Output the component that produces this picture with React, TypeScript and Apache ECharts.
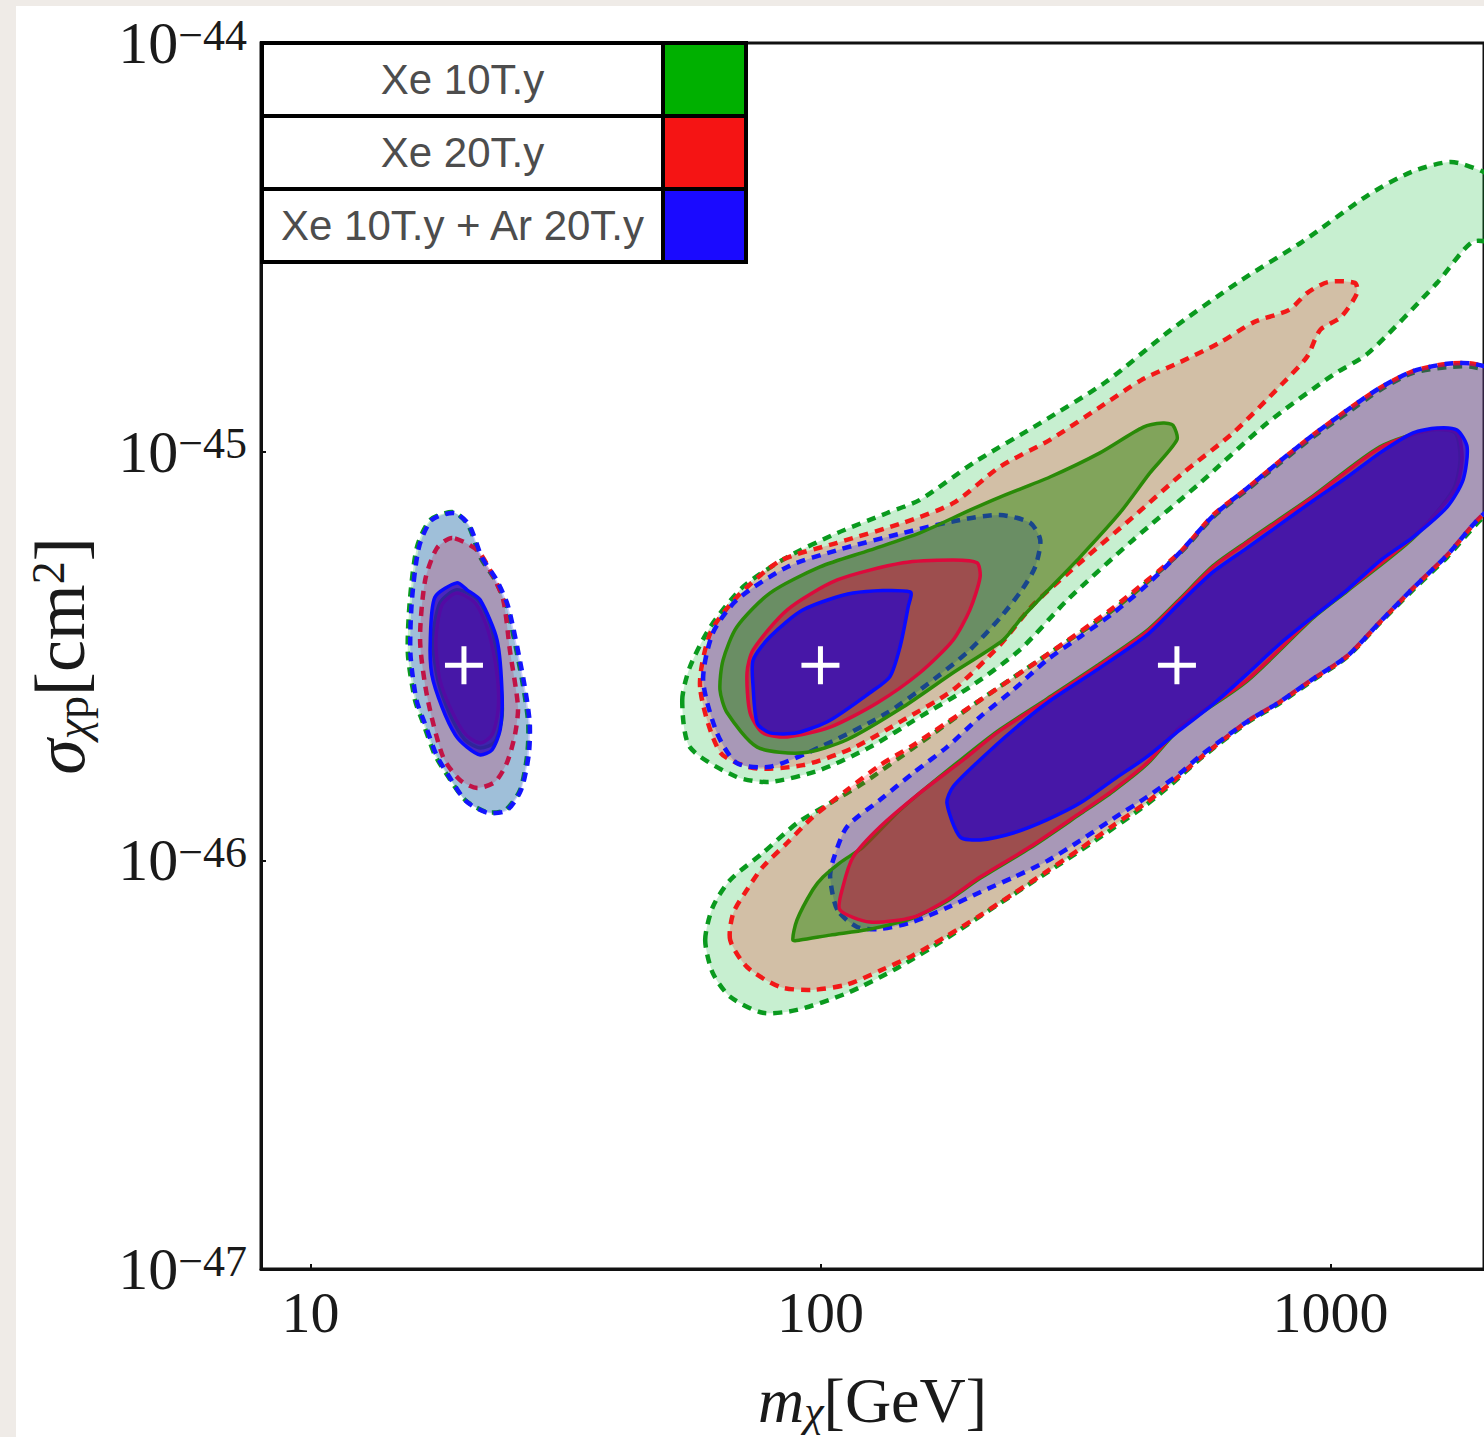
import React, { useEffect, useRef } from "react";
import * as echarts from "echarts";

// ---------- data: contours are [log10(m / GeV), log10(sigma / cm^2)] pairs ----------
type P = [number, number];

const seriesNames = ["Xe 10T.y", "Xe 20T.y", "Xe 10T.y + Ar 20T.y"];
const legendColors = ["#00b000", "#f51414", "#1a0aff"];
const benchmarkMass = [20, 100, 500]; // GeV
const benchmarkSigma = [3e-46, 3e-46, 3e-46]; // cm^2
const xTickMass = [10, 100, 1000];
const yTickExp = [-47, -46, -45, -44];
const xMinMass = 8;
const xMaxMass = 2000;

// benchmark m = 20 GeV
const xe10_2s_A: P[] = [[1.280,-45.148],[1.235,-45.167],[1.209,-45.233],[1.195,-45.363],[1.191,-45.493],[1.205,-45.608],[1.221,-45.664],[1.244,-45.742],[1.268,-45.791],[1.303,-45.852],[1.346,-45.882],[1.382,-45.877],[1.411,-45.828],[1.425,-45.742],[1.427,-45.664],[1.415,-45.559],[1.385,-45.380],[1.362,-45.314],[1.333,-45.258],[1.309,-45.179]];
const xe20_2s_A: P[] = [[1.278,-45.211],[1.248,-45.236],[1.225,-45.314],[1.215,-45.461],[1.229,-45.600],[1.260,-45.747],[1.293,-45.803],[1.327,-45.823],[1.362,-45.808],[1.385,-45.762],[1.401,-45.693],[1.407,-45.625],[1.391,-45.485],[1.378,-45.363],[1.352,-45.289],[1.327,-45.241]];
const xeAr_2s_A: P[] = [[1.282,-45.150],[1.238,-45.167],[1.213,-45.233],[1.199,-45.363],[1.196,-45.493],[1.208,-45.608],[1.224,-45.664],[1.247,-45.742],[1.271,-45.793],[1.305,-45.855],[1.348,-45.884],[1.385,-45.878],[1.413,-45.828],[1.428,-45.742],[1.430,-45.664],[1.418,-45.559],[1.388,-45.380],[1.365,-45.314],[1.336,-45.258],[1.311,-45.179]];
const xe10_1s_A: P[] = [[1.287,-45.338],[1.254,-45.370],[1.240,-45.461],[1.250,-45.559],[1.274,-45.644],[1.303,-45.705],[1.333,-45.725],[1.362,-45.710],[1.376,-45.644],[1.372,-45.559],[1.356,-45.436],[1.329,-45.363]];
const xe20_1s_A: P[] = [[1.287,-45.346],[1.258,-45.375],[1.246,-45.461],[1.254,-45.559],[1.278,-45.637],[1.305,-45.693],[1.333,-45.713],[1.356,-45.693],[1.368,-45.632],[1.366,-45.546],[1.348,-45.436],[1.323,-45.370]];
const xeAr_1s_A: P[] = [[1.287,-45.321],[1.244,-45.356],[1.235,-45.461],[1.238,-45.546],[1.258,-45.625],[1.284,-45.693],[1.307,-45.723],[1.333,-45.742],[1.356,-45.730],[1.372,-45.681],[1.376,-45.600],[1.366,-45.461],[1.333,-45.363],[1.307,-45.338]];

// benchmark m = 100 GeV (plus the upper degenerate band)
const xe10_2s_B: P[] = [[1.729,-45.608],[1.744,-45.527],[1.784,-45.429],[1.848,-45.331],[1.935,-45.258],[2.033,-45.199],[2.131,-45.150],[2.195,-45.118],[2.303,-45.025],[2.431,-44.930],[2.560,-44.829],[2.687,-44.702],[2.817,-44.587],[2.944,-44.487],[3.074,-44.372],[3.158,-44.316],[3.236,-44.291],[3.301,-44.316],[3.333,-44.347],[3.333,-44.482],[3.278,-44.487],[3.209,-44.587],[3.074,-44.759],[3.005,-44.812],[2.876,-44.930],[2.744,-45.077],[2.613,-45.216],[2.484,-45.363],[2.391,-45.485],[2.293,-45.576],[2.195,-45.649],[2.097,-45.723],[1.999,-45.779],[1.901,-45.808],[1.836,-45.796],[1.744,-45.723]];
const xe20_2s_B: P[] = [[1.764,-45.576],[1.784,-45.444],[1.836,-45.356],[1.921,-45.267],[2.033,-45.223],[2.162,-45.174],[2.260,-45.126],[2.352,-45.037],[2.450,-44.971],[2.548,-44.891],[2.629,-44.825],[2.705,-44.781],[2.782,-44.734],[2.850,-44.683],[2.919,-44.653],[2.954,-44.612],[2.995,-44.585],[3.048,-44.587],[3.052,-44.612],[3.021,-44.670],[2.980,-44.702],[2.954,-44.768],[2.907,-44.832],[2.809,-44.954],[2.711,-45.052],[2.613,-45.160],[2.515,-45.265],[2.417,-45.375],[2.352,-45.473],[2.260,-45.583],[2.162,-45.657],[2.064,-45.725],[1.966,-45.767],[1.868,-45.774],[1.803,-45.735]];
const xeAr_2s_B: P[] = [[1.770,-45.559],[1.789,-45.444],[1.836,-45.363],[1.935,-45.282],[2.033,-45.241],[2.162,-45.199],[2.274,-45.167],[2.352,-45.155],[2.411,-45.174],[2.431,-45.216],[2.421,-45.282],[2.395,-45.338],[2.352,-45.407],[2.293,-45.485],[2.229,-45.551],[2.131,-45.639],[1.999,-45.723],[1.901,-45.771],[1.836,-45.762],[1.797,-45.688]];
const xe10_1s_B: P[] = [[1.803,-45.583],[1.809,-45.510],[1.836,-45.429],[1.901,-45.346],[1.999,-45.282],[2.097,-45.241],[2.195,-45.199],[2.293,-45.143],[2.352,-45.111],[2.450,-45.062],[2.548,-45.003],[2.633,-44.940],[2.672,-44.930],[2.691,-44.935],[2.699,-44.971],[2.646,-45.052],[2.587,-45.150],[2.509,-45.258],[2.437,-45.351],[2.391,-45.412],[2.358,-45.461],[2.260,-45.541],[2.162,-45.625],[2.052,-45.705],[1.966,-45.737],[1.876,-45.723],[1.817,-45.639]];
const xe20_1s_B: P[] = [[1.856,-45.541],[1.868,-45.485],[1.935,-45.387],[2.033,-45.314],[2.162,-45.272],[2.260,-45.265],[2.307,-45.272],[2.313,-45.307],[2.293,-45.387],[2.260,-45.461],[2.195,-45.541],[2.111,-45.615],[2.019,-45.674],[1.935,-45.698],[1.887,-45.688],[1.862,-45.639]];
const xeAr_1s_B: P[] = [[1.868,-45.510],[1.901,-45.453],[1.966,-45.387],[2.064,-45.346],[2.176,-45.343],[2.172,-45.380],[2.156,-45.478],[2.136,-45.551],[2.097,-45.590],[2.019,-45.657],[1.954,-45.688],[1.901,-45.688],[1.876,-45.664],[1.868,-45.576]];

// benchmark m = 500 GeV
const xe10_2s_C: P[] = [[1.774,-46.195],[1.789,-46.114],[1.823,-46.048],[1.887,-45.982],[1.954,-45.909],[2.019,-45.860],[2.084,-45.811],[2.182,-45.725],[2.313,-45.608],[2.444,-45.497],[2.574,-45.387],[2.705,-45.248],[2.770,-45.160],[2.836,-45.094],[2.901,-45.028],[2.966,-44.964],[3.033,-44.905],[3.097,-44.849],[3.162,-44.807],[3.229,-44.793],[3.280,-44.793],[3.333,-44.820],[3.333,-45.155],[3.301,-45.160],[3.229,-45.258],[3.162,-45.338],[3.097,-45.419],[3.033,-45.502],[2.966,-45.559],[2.901,-45.615],[2.836,-45.664],[2.744,-45.752],[2.690,-45.812],[2.640,-45.863],[2.542,-45.949],[2.444,-46.030],[2.346,-46.110],[2.248,-46.190],[2.150,-46.264],[2.052,-46.325],[1.954,-46.366],[1.887,-46.373],[1.823,-46.334],[1.789,-46.276]];
const xe20_2s_C: P[] = [[1.823,-46.195],[1.829,-46.129],[1.856,-46.072],[1.887,-46.016],[1.935,-45.957],[1.985,-45.894],[2.052,-45.828],[2.117,-45.767],[2.182,-45.718],[2.313,-45.608],[2.444,-45.497],[2.574,-45.382],[2.705,-45.246],[2.770,-45.155],[2.836,-45.090],[2.901,-45.023],[2.966,-44.959],[3.033,-44.898],[3.097,-44.844],[3.162,-44.803],[3.229,-44.785],[3.280,-44.785],[3.333,-44.812],[3.333,-45.148],[3.301,-45.152],[3.229,-45.253],[3.162,-45.334],[3.097,-45.417],[3.033,-45.500],[2.966,-45.556],[2.901,-45.612],[2.836,-45.661],[2.744,-45.750],[2.690,-45.808],[2.640,-45.858],[2.574,-45.915],[2.509,-45.972],[2.444,-46.027],[2.378,-46.082],[2.313,-46.135],[2.248,-46.185],[2.182,-46.232],[2.117,-46.270],[2.052,-46.304],[1.985,-46.317],[1.921,-46.310],[1.856,-46.261]];
const xeAr_2s_C: P[] = [[2.033,-46.121],[2.019,-46.041],[2.025,-45.999],[2.052,-45.918],[2.117,-45.852],[2.182,-45.786],[2.248,-45.723],[2.313,-45.649],[2.378,-45.583],[2.444,-45.510],[2.509,-45.453],[2.574,-45.395],[2.640,-45.326],[2.705,-45.246],[2.770,-45.157],[2.836,-45.090],[2.901,-45.023],[2.966,-44.959],[3.033,-44.898],[3.097,-44.844],[3.162,-44.803],[3.229,-44.785],[3.280,-44.785],[3.333,-44.812],[3.333,-45.148],[3.301,-45.152],[3.229,-45.253],[3.162,-45.334],[3.097,-45.417],[3.033,-45.500],[2.966,-45.556],[2.901,-45.612],[2.836,-45.661],[2.744,-45.745],[2.705,-45.787],[2.640,-45.845],[2.574,-45.898],[2.509,-45.952],[2.444,-46.002],[2.378,-46.042],[2.313,-46.078],[2.248,-46.116],[2.182,-46.150],[2.117,-46.168],[2.072,-46.163]];
const xe10_1s_C: P[] = [[1.946,-46.195],[1.954,-46.146],[1.985,-46.072],[2.005,-46.041],[2.038,-46.006],[2.084,-45.967],[2.150,-45.884],[2.195,-45.835],[2.280,-45.749],[2.346,-45.685],[2.444,-45.605],[2.542,-45.524],[2.640,-45.438],[2.705,-45.360],[2.770,-45.279],[2.836,-45.220],[2.966,-45.108],[3.097,-44.988],[3.195,-44.947],[3.244,-44.954],[3.254,-45.020],[3.240,-45.094],[3.162,-45.212],[3.033,-45.341],[2.966,-45.407],[2.836,-45.562],[2.705,-45.677],[2.640,-45.765],[2.574,-45.831],[2.509,-45.887],[2.411,-45.970],[2.313,-46.044],[2.248,-46.100],[2.182,-46.141],[2.150,-46.153],[2.091,-46.170],[2.019,-46.183],[1.960,-46.195]];
const xe20_1s_C: P[] = [[2.038,-46.121],[2.044,-46.065],[2.064,-45.992],[2.117,-45.918],[2.195,-45.835],[2.280,-45.754],[2.346,-45.688],[2.444,-45.608],[2.542,-45.527],[2.640,-45.441],[2.705,-45.363],[2.770,-45.282],[2.836,-45.223],[2.966,-45.111],[3.097,-44.991],[3.195,-44.947],[3.248,-44.954],[3.258,-45.020],[3.244,-45.094],[3.162,-45.209],[3.033,-45.338],[2.966,-45.404],[2.836,-45.559],[2.705,-45.674],[2.640,-45.762],[2.574,-45.828],[2.509,-45.884],[2.411,-45.967],[2.313,-46.041],[2.248,-46.097],[2.182,-46.139],[2.097,-46.151]];
const xeAr_1s_C: P[] = [[2.248,-45.860],[2.260,-45.820],[2.313,-45.754],[2.378,-45.681],[2.444,-45.615],[2.542,-45.534],[2.640,-45.449],[2.705,-45.370],[2.770,-45.294],[2.836,-45.236],[2.901,-45.178],[2.966,-45.120],[3.033,-45.062],[3.097,-45.003],[3.162,-44.954],[3.209,-44.942],[3.248,-44.947],[3.268,-44.989],[3.260,-45.069],[3.229,-45.135],[3.162,-45.209],[3.097,-45.267],[3.033,-45.338],[2.966,-45.404],[2.901,-45.470],[2.836,-45.545],[2.770,-45.618],[2.705,-45.681],[2.640,-45.747],[2.574,-45.803],[2.509,-45.860],[2.444,-45.901],[2.378,-45.933],[2.313,-45.950],[2.274,-45.943]];

// ---------- styles ----------
const SERIF = "'Liberation Serif', 'Times New Roman', serif";
const SANS = "'Liberation Sans', Arial, sans-serif";
const INK = "#1a1a1a";

const layers = [
  { name: "Xe 10T.y 2σ", polys: [xe10_2s_A, xe10_2s_B, xe10_2s_C], fill: "rgba(0,180,40,0.22)", stroke: "#0a9a1e", dash: true },
  { name: "Xe 20T.y 2σ", polys: [xe20_2s_A, xe20_2s_B, xe20_2s_C], fill: "rgba(255,0,0,0.2)", stroke: "#f21818", dash: true },
  { name: "Xe 10T.y + Ar 20T.y 2σ", polys: [xeAr_2s_A, xeAr_2s_B, xeAr_2s_C], fill: "rgba(0,0,255,0.2)", stroke: "#1414ff", dash: true },
  { name: "Xe 10T.y 1σ", polys: [xe10_1s_A, xe10_1s_B, xe10_1s_C], fill: "rgba(30,130,0,0.45)", stroke: "#2a8a08", dash: false },
  { name: "Xe 20T.y 1σ", polys: [xe20_1s_A, xe20_1s_B, xe20_1s_C], fill: "rgba(220,0,50,0.45)", stroke: "#dc0a3c", dash: false },
  { name: "Xe 10T.y + Ar 20T.y 1σ", polys: [xeAr_1s_A, xeAr_1s_B, xeAr_1s_C], fill: "rgba(50,10,190,0.8)", stroke: "#0a0aff", dash: false },
];

export default function App() {
  const ref = useRef<HTMLDivElement>(null);

  useEffect(() => {
    if (!ref.current) return;
    const chart = echarts.init(ref.current, undefined, { renderer: "svg" });

    const contourSeries = layers.map((layer) => ({
      type: "custom",
      name: layer.name,
      coordinateSystem: "cartesian2d",
      clip: true,
      silent: true,
      data: layer.polys.map((poly, i) => [poly[0][0], poly[0][1], i]),
      encode: { x: 0, y: 1 },
      renderItem: (params: any, api: any) => {
        const poly = layer.polys[params.dataIndex];
        const pts = poly.map((p) => api.coord(p));
        return {
          type: "polygon",
          shape: { points: pts, smooth: 0.25 },
          style: {
            fill: layer.fill,
            stroke: layer.stroke,
            lineWidth: layer.dash ? 4.5 : 3.5,
            lineDash: layer.dash ? [9, 7] : null,
          },
        };
      },
    }));

    // legend table built from the names / colours
    const lgX = 262, lgY = 43, rowH = 73, textW = 401, swW = 83;
    const legendEls: any[] = [];
    legendEls.push({
      type: "rect",
      shape: { x: lgX, y: lgY, width: textW + swW, height: rowH * seriesNames.length },
      style: { fill: "#ffffff", stroke: "#000", lineWidth: 4 },
      z: 100,
    });
    seriesNames.forEach((nm, i) => {
      legendEls.push({
        type: "rect",
        shape: { x: lgX + textW + 2, y: lgY + rowH * i + 2, width: swW - 4, height: rowH - 4 },
        style: { fill: legendColors[i] },
        z: 101,
      });
      legendEls.push({
        type: "text",
        x: lgX + textW / 2,
        y: lgY + rowH * i + rowH / 2,
        style: { text: nm, fill: "#4d4d4d", font: `42px ${SANS}`, align: "center", verticalAlign: "middle" },
        z: 102,
      });
      if (i > 0) {
        legendEls.push({
          type: "line",
          shape: { x1: lgX, y1: lgY + rowH * i, x2: lgX + textW + swW, y2: lgY + rowH * i },
          style: { stroke: "#000", lineWidth: 4 },
          z: 103,
        });
      }
    });
    legendEls.push({
      type: "line",
      shape: { x1: lgX + textW, y1: lgY, x2: lgX + textW, y2: lgY + rowH * seriesNames.length },
      style: { stroke: "#000", lineWidth: 4 },
      z: 103,
    });

    const xTickVals = xTickMass.map((m) => Math.log10(m));

    const option: any = {
      animation: false,
      backgroundColor: "#efebe7",
      grid: {
        left: 261,
        right: 0,
        top: 43,
        bottom: 168,
        show: true,
        backgroundColor: "#ffffff",
        borderColor: "#111",
        borderWidth: 3,
        containLabel: false,
        outerBoundsMode: "none",
      },
      graphic: [
        {
          type: "rect",
          shape: { x: 16, y: 6, width: 1484, height: 1437 },
          style: { fill: "#ffffff" },
          z: -10,
          silent: true,
        },
        ...legendEls,
      ],
      xAxis: {
        type: "value",
        min: Math.log10(xMinMass),
        max: Math.log10(xMaxMass),
        splitLine: { show: false },
        axisLine: { lineStyle: { color: "#111", width: 3 } },
        axisTick: { inside: true, length: 5, customValues: xTickVals, lineStyle: { color: "#111", width: 2 } },
        axisLabel: {
          customValues: xTickVals,
          margin: 14,
          color: INK,
          fontFamily: SERIF,
          fontSize: 58,
          formatter: (v: number) => String(Math.round(Math.pow(10, v))),
        },
        name: "{i|m}{s|χ}{n|[GeV]}",
        nameLocation: "middle",
        nameGap: 98,
        nameTextStyle: {
          color: INK,
          fontFamily: SERIF,
          fontSize: 64,
          rich: {
            i: { fontFamily: SERIF, fontSize: 64, fontStyle: "italic", lineHeight: 66, color: INK },
            s: { fontFamily: SERIF, fontSize: 44, fontStyle: "italic", lineHeight: 22, verticalAlign: "bottom", color: INK },
            n: { fontFamily: SERIF, fontSize: 64, lineHeight: 66, color: INK },
          },
        },
      },
      yAxis: {
        type: "value",
        min: yTickExp[0],
        max: yTickExp[yTickExp.length - 1],
        interval: 1,
        splitLine: { show: false },
        axisLine: { lineStyle: { color: "#111", width: 3 } },
        axisTick: { inside: true, length: 5, lineStyle: { color: "#111", width: 2 } },
        axisLabel: {
          margin: 14,
          color: INK,
          formatter: (v: number) => `{b|10}{e|−${Math.abs(Math.round(v))}}`,
          rich: {
            b: { fontFamily: SERIF, fontSize: 60, lineHeight: 60, color: INK },
            e: { fontFamily: SERIF, fontSize: 44, lineHeight: 30, verticalAlign: "top", color: INK },
          },
        },
        name: "{i|σ}{s|χ}{p|p}{n|[cm}{u|2}{n|]}",
        nameLocation: "middle",
        nameGap: 166,
        nameRotate: 90,
        nameTextStyle: {
          color: INK,
          fontFamily: SERIF,
          fontSize: 72,
          rich: {
            i: { fontFamily: SERIF, fontSize: 72, fontStyle: "italic", lineHeight: 70, color: INK },
            s: { fontFamily: SERIF, fontSize: 46, fontStyle: "italic", lineHeight: 22, verticalAlign: "bottom", color: INK },
            p: { fontFamily: SERIF, fontSize: 46, lineHeight: 22, verticalAlign: "bottom", color: INK },
            n: { fontFamily: SERIF, fontSize: 72, lineHeight: 70, color: INK },
            u: { fontFamily: SERIF, fontSize: 46, lineHeight: 32, verticalAlign: "top", color: INK },
          },
        },
      },
      series: [
        ...contourSeries,
        {
          type: "scatter",
          name: "benchmarks",
          silent: true,
          z: 10,
          symbol: "path://M16.5,0H21.5V16.5H38V21.5H21.5V38H16.5V21.5H0V16.5H16.5Z",
          symbolSize: 38,
          itemStyle: { color: "#ffffff", opacity: 1 },
          data: benchmarkMass.map((m, i) => [Math.log10(m), Math.log10(benchmarkSigma[i])]),
        },
      ],
    };

    chart.setOption(option);
    return () => chart.dispose();
  }, []);

  return <div ref={ref} style={{ position: "fixed", left: 0, top: 0, width: 1484, height: 1437 }} />;
}
